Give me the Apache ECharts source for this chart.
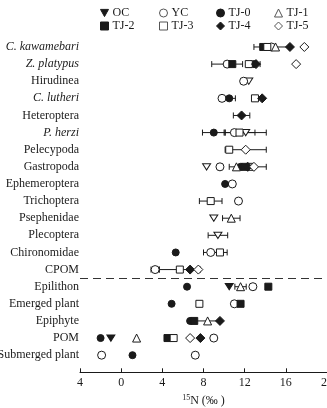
<!DOCTYPE html>
<html>
<head>
<meta charset="utf-8">
<script src="https://cdn.jsdelivr.net/npm/echarts@6/dist/echarts.min.js"></script>
<style>
  html, body { margin: 0; padding: 0; background: #fff; }
  #main { width: 327px; height: 408px; }
</style>
</head>
<body>
<div id="main"></div>
<script>
// rows, top to bottom
const categories = ['C. kawamebari', 'Z. platypus', 'Hirudinea', 'C. lutheri', 'Heteroptera', 'P. herzi',
  'Pelecypoda', 'Gastropoda', 'Ephemeroptera', 'Trichoptera', 'Psephenidae', 'Plecoptera',
  'Chironomidae', 'CPOM', 'Epilithon', 'Emerged plant', 'Epiphyte', 'POM', 'Submerged plant'];
const italicNames = ['C. kawamebari', 'Z. platypus', 'C. lutheri', 'P. herzi'];
const xTicks = [-4, 0, 4, 8, 12, 16, 20];

// [row, δ15N, error]
const OC = [['Hirudinea', 12.4, 0], ['P. herzi', 12.1, 2.0], ['Gastropoda', 8.3, 0], ['Psephenidae', 9.0, 0],
  ['Plecoptera', 9.4, 0.95], ['Epilithon', 10.5, 0], ['POM', -1.0, 0]];
const YC = [['C. kawamebari', 14.6, 0], ['Z. platypus', 10.3, 1.5], ['Hirudinea', 11.9, 0], ['C. lutheri', 9.8, 0],
  ['P. herzi', 11.0, 0], ['Gastropoda', 9.6, 0], ['Ephemeroptera', 10.8, 0], ['Trichoptera', 11.4, 0],
  ['Chironomidae', 8.7, 0.7], ['CPOM', 3.3, 0.4], ['Epilithon', 12.8, 0], ['Emerged plant', 11.0, 0],
  ['POM', 9.0, 0], ['Submerged plant', -1.9, 0], ['Submerged plant', 7.2, 0]];
const TJ0 = [['Z. platypus', 12.9, 0.6], ['C. lutheri', 10.5, 0.6], ['P. herzi', 9.0, 1.1], ['Gastropoda', 11.6, 0],
  ['Ephemeroptera', 10.1, 0], ['Chironomidae', 5.3, 0], ['Epilithon', 6.4, 0], ['Emerged plant', 4.9, 0],
  ['Epiphyte', 6.7, 0], ['POM', -2.0, 0], ['Submerged plant', 1.1, 0]];
const TJ1 = [['C. kawamebari', 15.0, 1.3], ['Gastropoda', 11.2, 0], ['Psephenidae', 10.7, 0.85],
  ['Epilithon', 11.6, 0.55], ['Epiphyte', 8.4, 1.2], ['POM', 1.5, 0]];
const TJ2 = [['C. kawamebari', 13.8, 0.9], ['Z. platypus', 10.8, 0], ['Gastropoda', 12.0, 0], ['Epilithon', 14.3, 0],
  ['Emerged plant', 11.6, 0], ['Epiphyte', 7.1, 0], ['POM', 4.5, 0]];
const TJ3 = [['C. kawamebari', 14.2, 0], ['Z. platypus', 12.4, 0], ['C. lutheri', 13.0, 0], ['P. herzi', 11.5, 1.5],
  ['Pelecypoda', 10.5, 0], ['Gastropoda', 12.5, 0], ['Trichoptera', 8.7, 1.1], ['Chironomidae', 9.6, 0.7],
  ['CPOM', 5.7, 2.0], ['Emerged plant', 7.6, 0], ['POM', 5.1, 0]];
const TJ4 = [['C. kawamebari', 16.4, 0], ['Z. platypus', 13.1, 0], ['C. lutheri', 13.7, 0], ['Heteroptera', 11.7, 0.8],
  ['Gastropoda', 12.3, 1.8], ['CPOM', 6.7, 0], ['Epiphyte', 9.6, 0], ['POM', 7.7, 0]];
const TJ5 = [['C. kawamebari', 17.8, 0], ['Z. platypus', 17.0, 0], ['Pelecypoda', 12.1, 2.0], ['Gastropoda', 12.9, 0],
  ['CPOM', 7.5, 0], ['POM', 6.7, 0]];

const FONT = 'Liberation Serif';
const INK = '#1a1a1a';
const basalStart = categories.indexOf('Epilithon');

// name, data, symbol, size, filled
const groups = [
  ['OC', OC, 'path://M0,0L10,0L5,9Z', 8, true],
  ['YC', YC, 'circle', 8, false],
  ['TJ-0', TJ0, 'circle', 7, true],
  ['TJ-1', TJ1, 'triangle', 8, false],
  ['TJ-2', TJ2, 'rect', 7, true],
  ['TJ-3', TJ3, 'rect', 7, false],
  ['TJ-4', TJ4, 'diamond', 9, true],
  ['TJ-5', TJ5, 'diamond', 9, false],
];
// legend layout: columns of [top row, bottom row]
const legendColumns = [['OC', 'TJ-2'], ['YC', 'TJ-3'], ['TJ-0', 'TJ-4'], ['TJ-1', 'TJ-5']];
const legendLeft = [95, 154, 211, 269];

const toPoints = arr => arr.map(d => [d[1], categories.indexOf(d[0]), d[2]]);

let errData = [];
groups.forEach(g => {
  toPoints(g[1]).forEach(p => { if (p[2] > 0) errData.push(p); });
});

const series = [{
  type: 'custom',
  z: 1,
  silent: true,
  data: errData,
  encode: { x: 0, y: 1 },
  renderItem: function (params, api) {
    const v = api.value(0), row = api.value(1), e = api.value(2);
    const a = api.coord([v - e, row]);
    const b = api.coord([v + e, row]);
    const style = { stroke: INK, lineWidth: 1 };
    return {
      type: 'group',
      children: [
        { type: 'line', shape: { x1: a[0], y1: a[1], x2: b[0], y2: b[1] }, style: style },
        { type: 'line', shape: { x1: a[0], y1: a[1] - 3, x2: a[0], y2: a[1] + 3 }, style: style },
        { type: 'line', shape: { x1: b[0], y1: b[1] - 3, x2: b[0], y2: b[1] + 3 }, style: style },
      ],
    };
  },
}];

groups.forEach(g => {
  const filled = g[4];
  let color = filled ? INK : '#fff';
  if (g[0] === 'OC') {
    // OC is drawn open for the consumers, filled for the basal sources
    color = p => (p.value[1] >= basalStart ? INK : '#fff');
  }
  series.push({
    name: g[0],
    type: 'scatter',
    z: 3,
    symbol: g[2],
    symbolSize: g[2].indexOf('path') === 0 ? [8, 7] : g[3],
    symbolKeepAspect: true,
    data: toPoints(g[1]),
    itemStyle: { color: color, borderColor: INK, borderWidth: 1, opacity: 1 },
    emphasis: { disabled: true },
  });
});

// dashed separator between consumers and sources
series[0].markLine = {
  silent: true,
  symbol: 'none',
  label: { show: false },
  lineStyle: { color: '#333', type: [8, 5], width: 1 },
  data: [{ yAxis: basalStart - 0.5 }],
};

function legendItems(names) {
  return names.map(n => {
    const g = groups.find(x => x[0] === n);
    return {
      name: n,
      icon: g[2],
      itemStyle: { color: g[4] ? INK : '#fff', borderColor: g[4] ? INK : '#555', borderWidth: 1 },
    };
  });
}

const legends = legendColumns.map((col, i) => ({
  left: legendLeft[i],
  top: 2,
  orient: 'vertical',
  itemWidth: 8,
  itemHeight: 8,
  itemGap: 1,
  selectedMode: false,
  textStyle: { fontFamily: FONT, fontSize: 12, color: INK, padding: [0, 0, 0, -1] },
  data: legendItems(col),
}));

const option = {
  animation: false,
  backgroundColor: '#fff',
  textStyle: { fontFamily: FONT },
  legend: legends,
  grid: { left: 80, right: 0, top: 29.85, bottom: 35.7, containLabel: false, outerBoundsMode: 'none' },
  xAxis: {
    type: 'value',
    min: xTicks[0],
    max: xTicks[xTicks.length - 1],
    interval: 4,
    splitLine: { show: false },
    axisLine: { show: true, onZero: false, lineStyle: { color: INK, width: 1 } },
    axisTick: { show: true, inside: true, length: 4, lineStyle: { color: INK } },
    axisLabel: {
      margin: 5,
      fontFamily: FONT,
      fontSize: 12,
      color: INK,
      hideOverlap: false,
      formatter: v => String(Math.abs(v)),
    },
    name: '{sup|15}{n|N (‰ )}',
    nameLocation: 'middle',
    nameGap: 20,
    nameTextStyle: {
      rich: {
        sup: { fontFamily: FONT, fontSize: 8, color: INK, verticalAlign: 'top', lineHeight: 14 },
        n: { fontFamily: FONT, fontSize: 12, color: INK, lineHeight: 14 },
      },
    },
  },
  yAxis: {
    type: 'value',
    inverse: true,
    min: -1,
    max: categories.length,
    interval: 1,
    splitLine: { show: false },
    axisLine: { show: false },
    axisTick: { show: false },
    axisLabel: {
      margin: 1,
      fontFamily: FONT,
      fontSize: 12,
      color: INK,
      formatter: v => {
        const name = categories[v];
        if (!name) return '';
        return italicNames.indexOf(name) >= 0 ? '{i|' + name + '}' : name;
      },
      rich: { i: { fontStyle: 'italic', fontFamily: FONT, fontSize: 12, color: INK } },
    },
  },
  series: series,
};

const chart = echarts.init(document.getElementById('main'), null, { renderer: 'canvas' });
chart.setOption(option);
</script>
</body>
</html>
